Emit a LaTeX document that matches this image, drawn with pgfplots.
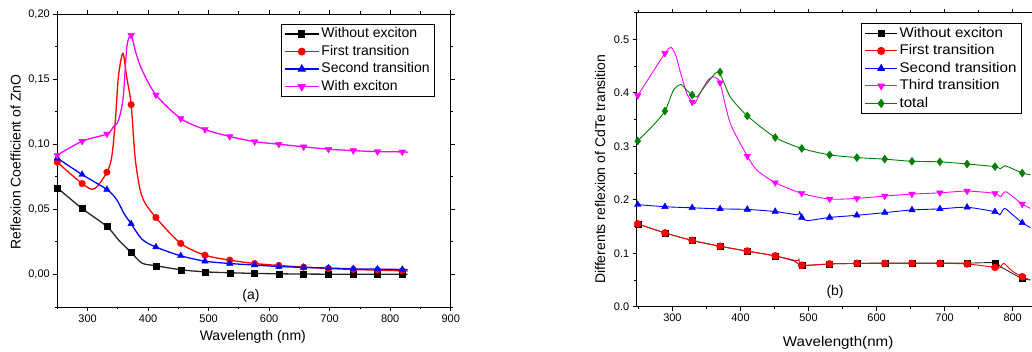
\documentclass[border=0pt]{standalone}
\usepackage{pgfplots}
\pgfplotsset{compat=1.18}
\usepackage{fontspec}
\setmainfont{Liberation Sans}
\newfontfamily\widefont[FakeStretch=1.08]{Liberation Sans}
\definecolor{cmag}{RGB}{255,0,255}
\definecolor{cgreen}{RGB}{0,128,0}
\definecolor{cblue}{RGB}{0,0,255}
\definecolor{cred}{RGB}{255,0,0}
\pgfplotsset{
  common/.style={
    scale only axis, tick align=outside,
    axis line style={line width=0.9pt},
    major tick length=4pt, minor tick length=2.5pt,
    every tick/.style={black, line width=0.8pt},
    tick label style={font=\fontsize{11}{13}\selectfont},
    label style={font=\fontsize{14}{16}\selectfont},
    /pgf/number format/assume math mode=true,
    scaled ticks=false,
    legend cell align=left,
    legend style={draw=black, line width=0.8pt, fill=white, font=\fontsize{14}{16}\selectfont,
      inner xsep=3pt, inner ysep=1pt, row sep=0pt, anchor=north west,
      nodes={inner sep=2pt, text height=10.5pt, text depth=3pt}},
    legend image code/.code={\draw[mark repeat=2,mark phase=2,##1] plot coordinates {(0pt,0pt) (17pt,0pt) (34pt,0pt)};},
  }
}
\begin{document}
\begin{tikzpicture}
\useasboundingbox (0,0) rectangle (1032pt,352pt);
% ---------------- panel (a)
\begin{axis}[common, at={(57.3pt,45pt)}, anchor=south west, width=393.4pt, height=293pt,
  xmin=250, xmax=900, ymin=-0.025, ymax=0.20,
  xtick={300,400,...,900}, minor xtick={250,350,...,850},
  ytick={0,0.05,0.10,0.15,0.20}, minor ytick={-0.025,0.025,0.075,0.125,0.175},
  yticklabel style={/pgf/number format/.cd, fixed, fixed zerofill, precision=2, use comma},
  xlabel={Wavelength (nm)}, ylabel={Reflexion Coefficient of ZnO},
  xlabel style={at={(axis description cs:0.497,-0.1024)}, anchor=center},
  ylabel style={at={(axis description cs:-0.1057,0.495)}, anchor=center},
  legend style={at={(0.568,0.966)}},
]
\addlegendimage{black, line width=1.3pt, mark=square*, mark size=3pt}
\addlegendentry{Without exciton}
\addlegendimage{cred, line width=1.3pt, mark=*, mark size=3.3pt}
\addlegendentry{First transition}
\addlegendimage{cblue, line width=1.3pt, mark=triangle*, mark size=3.8pt}
\addlegendentry{Second transition}
\addlegendimage{cmag, line width=1.3pt, mark=triangle*, mark options={rotate=180}, mark size=3.8pt}
\addlegendentry{With exciton}
% black
\addplot[black!85, line width=1.3pt, smooth, forget plot] coordinates {
(250,0.0665) (291,0.0506) (332,0.0368) (351,0.0266) (372,0.0169) (390,0.0087) (413,0.0067) (454,0.0036) (494,0.0020) (535,0.0013) (576,0.0008) (616,0.0005) (657,0.0003) (698,0.0002) (739,0.0002) (779,0.0001) (820,0.0001) (829,0.0001)};
\addplot[black, only marks, mark=square*, mark size=3pt, forget plot] coordinates {
(250,0.0665) (291,0.0506) (332,0.0368) (372,0.0169) (413,0.0067) (454,0.0036) (494,0.0020) (535,0.0013) (576,0.0008) (616,0.0005) (657,0.0003) (698,0.0002) (739,0.0002) (779,0.0001) (820,0.0001)};
% red
\addplot[cred, line width=1.3pt, smooth, forget plot] coordinates {
(250,0.0862) (291,0.0698) (311,0.0657) (332,0.0785) (340,0.0905) (346,0.1186) (351,0.152) (358.4,0.1698) (364.5,0.152) (372,0.1304) (379,0.088) (390,0.0598) (413,0.0437) (454,0.0238) (494,0.0148) (535,0.0110) (576,0.0084) (616,0.0069) (657,0.0056) (698,0.0046) (739,0.0038) (779,0.0033) (820,0.0028) (829,0.0027)};
\addplot[cred, only marks, mark=*, mark size=3.3pt, forget plot] coordinates {
(250,0.0862) (291,0.0698) (332,0.0785) (372,0.1304) (413,0.0437) (454,0.0238) (494,0.0148) (535,0.0110) (576,0.0084) (616,0.0069) (657,0.0056) (698,0.0046) (739,0.0038) (779,0.0033) (820,0.0028)};
% blue
\addplot[cblue, line width=1.3pt, smooth, forget plot] coordinates {
(250,0.0893) (291,0.0767) (332,0.0652) (348,0.0575) (360,0.047) (372,0.0389) (390,0.027) (413,0.0210) (454,0.0143) (494,0.0102) (535,0.0084) (576,0.0072) (616,0.0061) (657,0.0054) (698,0.0049) (739,0.0043) (779,0.0041) (820,0.0038) (829,0.0038)};
\addplot[cblue, only marks, mark=triangle*, mark size=3.8pt, forget plot] coordinates {
(250,0.0893) (291,0.0767) (332,0.0652) (372,0.0389) (413,0.0210) (454,0.0143) (494,0.0102) (535,0.0084) (576,0.0072) (616,0.0061) (657,0.0054) (698,0.0049) (739,0.0043) (779,0.0041) (820,0.0038)};
% magenta
\addplot[cmag, line width=1.3pt, smooth, forget plot] coordinates {
(250,0.0916) (291,0.1023) (332,0.1079) (343,0.1135) (349,0.116) (355,0.125) (359.5,0.139) (365,0.175) (372,0.1836) (380,0.170) (390,0.157) (413,0.1379) (454,0.1197) (494,0.1113) (535,0.1059) (576,0.1020) (616,0.1000) (657,0.0980) (698,0.0962) (739,0.0951) (779,0.0943) (820,0.0941) (829,0.0938)};
\addplot[cmag, only marks, mark=triangle*, mark options={rotate=180}, mark size=3.8pt, forget plot] coordinates {
(250,0.0916) (291,0.1023) (332,0.1079) (372,0.1836) (413,0.1379) (454,0.1197) (494,0.1113) (535,0.1059) (576,0.1020) (616,0.1000) (657,0.0980) (698,0.0962) (739,0.0951) (779,0.0943) (820,0.0941)};
\node[font=\fontsize{14}{16}\selectfont] at (axis cs:570,-0.0163) {(a)};
\end{axis}
% ---------------- panel (b)
\begin{axis}[common, at={(636.7pt,45.3pt)}, anchor=south west, width=395.7pt, height=294pt,
  xmin=247.5, xmax=829, ymin=0, ymax=0.55,
  xtick={300,400,...,800}, minor xtick={250,350,...,750},
  ytick={0,0.1,...,0.5}, minor ytick={0.05,0.15,...,0.55},
  yticklabel style={/pgf/number format/.cd, fixed, fixed zerofill, precision=1},
  xlabel={Wavelength(nm)}, ylabel={Differents reflexion of CdTe transition},
  xlabel style={at={(axis description cs:0.509,-0.1245)}, anchor=center, font=\widefont\fontsize{14}{16}\selectfont},
  ylabel style={at={(axis description cs:-0.0927,0.468)}, anchor=center},
  legend style={at={(0.5676,0.964)}, font=\widefont\fontsize{14}{16}\selectfont},
  legend image code/.code={\draw[mark repeat=2,mark phase=2,#1] plot coordinates {(0pt,0pt) (16pt,0pt) (32pt,0pt)};},
]
\addlegendimage{black, line width=0.9pt, mark=square*, mark size=3pt}
\addlegendentry{Without exciton}
\addlegendimage{cred, line width=0.9pt, mark=*, mark size=3.6pt}
\addlegendentry{First transition}
\addlegendimage{cblue, line width=0.9pt, mark=triangle*, mark size=3.8pt}
\addlegendentry{Second transition}
\addlegendimage{cmag, line width=0.9pt, mark=triangle*, mark options={rotate=180}, mark size=3.8pt}
\addlegendentry{Third transition}
\addlegendimage{cgreen, line width=0.9pt, mark=diamond*, mark size=4pt}
\addlegendentry{total}
% black
\addplot[black!85, line width=0.9pt, smooth, tension=0.4, forget plot] coordinates {
(249,0.155) (289,0.138) (329,0.124) (370,0.113) (410,0.104) (451,0.095) (480,0.085) (490,0.077) (531,0.080) (571,0.081) (612,0.0817) (652,0.0817) (693,0.0817) (733,0.0815) (774,0.0823) (782,0.075) (802,0.0605) (814,0.053) (826,0.050)};
\addplot[black, only marks, mark=square*, mark size=3pt, forget plot] coordinates {
(249,0.155) (289,0.138) (329,0.124) (370,0.113) (410,0.104) (451,0.095) (490,0.077) (531,0.080) (571,0.081) (612,0.0817) (652,0.0817) (693,0.0817) (733,0.0815) (774,0.0823) (814,0.053)};
% red
\addplot[cred, line width=0.9pt, smooth, tension=0.4, forget plot] coordinates {
(249,0.155) (289,0.138) (329,0.124) (370,0.113) (410,0.104) (451,0.095) (483,0.086) (486,0.0886) (490,0.0775) (531,0.080) (571,0.081) (612,0.081) (652,0.081) (693,0.081) (733,0.080) (774,0.0736) (781,0.0725) (787,0.081) (800,0.066) (814,0.056) (826,0.050)};
\addplot[cred, only marks, mark=*, mark size=3.6pt, forget plot] coordinates {
(249,0.155) (289,0.138) (329,0.124) (370,0.113) (410,0.104) (451,0.095) (490,0.0775) (531,0.080) (571,0.081) (612,0.081) (652,0.081) (693,0.081) (733,0.080) (774,0.0736) (814,0.056)};
% blue
\addplot[cblue, line width=0.9pt, smooth, tension=0.4, forget plot] coordinates {
(249,0.191) (289,0.187) (329,0.185) (370,0.183) (410,0.182) (451,0.178) (484,0.172) (487,0.177) (490,0.167) (498,0.161) (531,0.167) (571,0.171) (612,0.176) (652,0.181) (693,0.183) (733,0.186) (774,0.1776) (781,0.172) (788,0.184) (800,0.172) (814,0.157) (826,0.148)};
\addplot[cblue, only marks, mark=triangle*, mark size=3.8pt, forget plot] coordinates {
(249,0.191) (289,0.187) (329,0.185) (370,0.183) (410,0.182) (451,0.178) (490,0.167) (531,0.167) (571,0.171) (612,0.176) (652,0.181) (693,0.183) (733,0.186) (774,0.1776) (814,0.157)};
% magenta
\addplot[cmag, line width=0.9pt, smooth, tension=0.4, forget plot] coordinates {
(249,0.395) (289,0.474) (298,0.485) (305,0.470) (311,0.442) (321,0.399) (329,0.383) (333,0.380) (343,0.405) (353,0.425) (360,0.430) (365,0.427) (370,0.419) (385,0.343) (410,0.2817) (424,0.2555) (451,0.232) (490,0.212) (531,0.2013) (571,0.2026) (612,0.207) (652,0.2107) (693,0.213) (733,0.2163) (774,0.212) (782,0.2056) (790,0.215) (814,0.192) (826,0.184)};
\addplot[cmag, only marks, mark=triangle*, mark options={rotate=180}, mark size=3.8pt, forget plot] coordinates {
(249,0.395) (289,0.474) (329,0.383) (370,0.419) (410,0.2817) (451,0.232) (490,0.212) (531,0.2013) (571,0.2026) (612,0.207) (652,0.2107) (693,0.213) (733,0.2163) (774,0.212) (814,0.192)};
% green
\addplot[cgreen, line width=0.9pt, smooth, tension=0.4, forget plot] coordinates {
(249,0.310) (270,0.337) (289,0.366) (301.5,0.405) (312.3,0.4157) (321,0.405) (329,0.396) (336,0.3925) (350.6,0.4175) (367.6,0.439) (385,0.3925) (410,0.357) (451,0.3166) (490,0.296) (531,0.284) (571,0.279) (612,0.276) (652,0.272) (693,0.271) (733,0.267) (774,0.262) (782,0.258) (789,0.2636) (814,0.250) (826,0.247)};
\addplot[cgreen, only marks, mark=diamond*, mark size=4pt, forget plot] coordinates {
(249,0.310) (289,0.366) (329,0.396) (370,0.439) (410,0.357) (451,0.3166) (490,0.296) (531,0.284) (571,0.279) (612,0.276) (652,0.272) (693,0.271) (733,0.267) (774,0.262) (814,0.250)};
\node[font=\fontsize{14}{16}\selectfont] at (axis cs:539,0.028) {(b)};
\end{axis}
\end{tikzpicture}
\end{document}
